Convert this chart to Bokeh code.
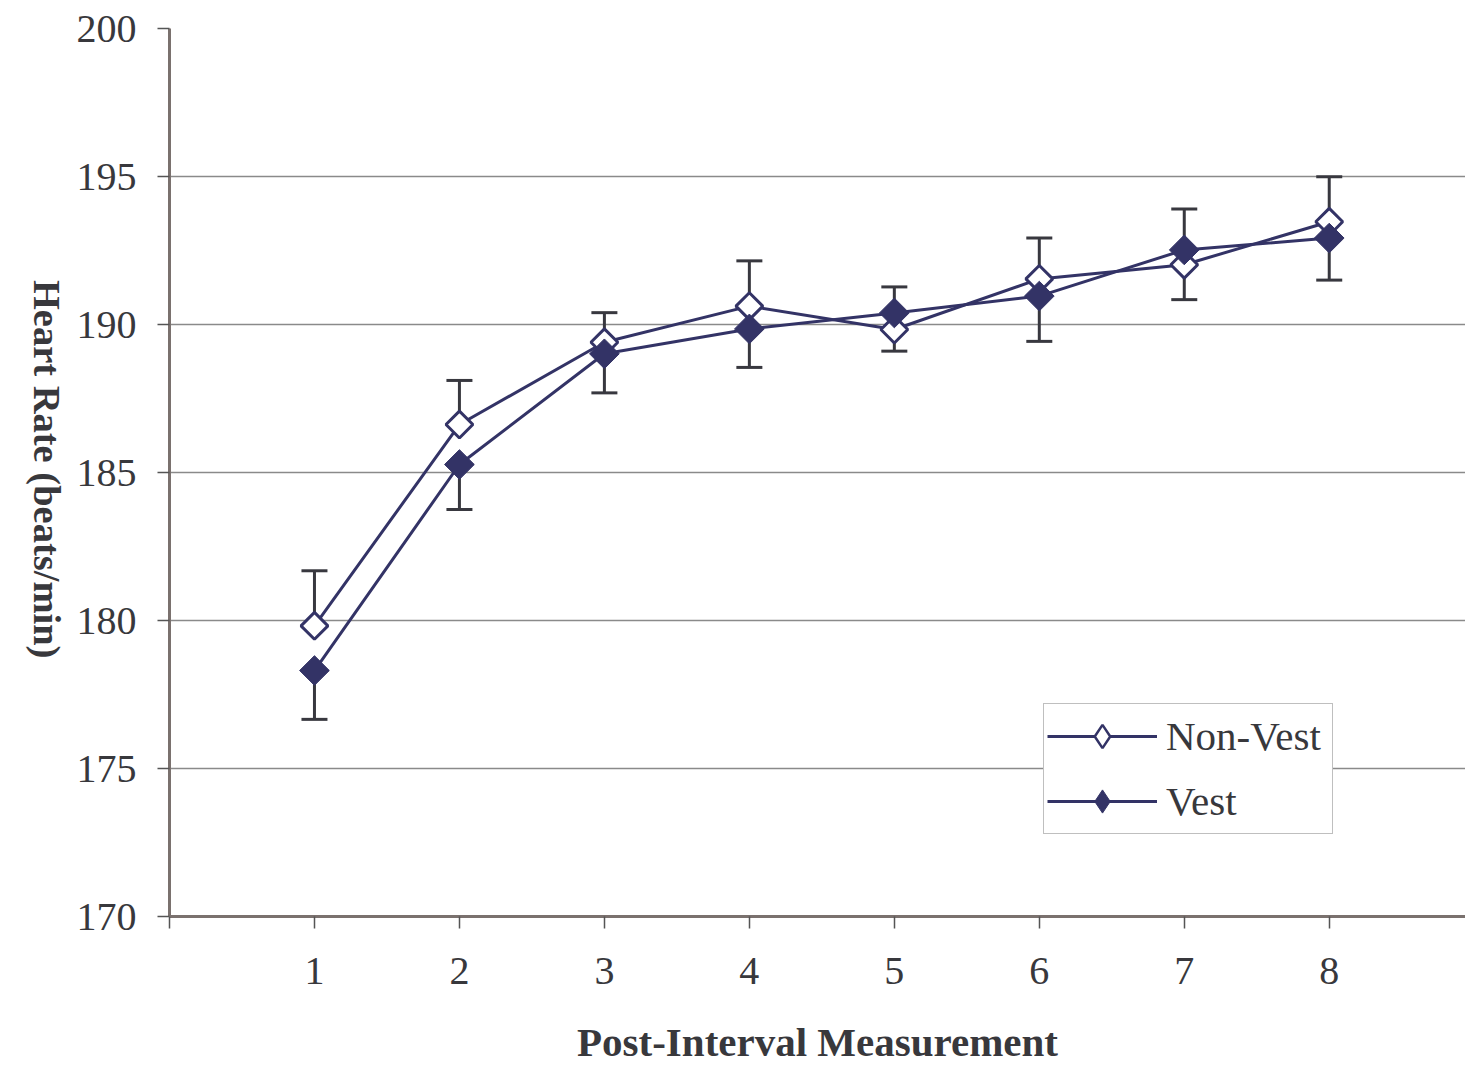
import math
from bokeh.plotting import figure
from bokeh.models import ColumnDataSource, FixedTicker, Range1d, LinearAxis
from bokeh.embed import file_html
from bokeh.resources import INLINE

measurements = [1, 2, 3, 4, 5, 6, 7, 8]
non_vest = [179.82, 186.62, 189.40, 190.62, 189.83, 191.54, 192.02, 193.47]
non_vest_err = [1.86, 1.49, 1.00, 1.53, 1.44, 1.38, 1.88, 1.52]
vest = [178.31, 185.27, 189.01, 189.85, 190.39, 190.96, 192.52, 192.92]
vest_err = [1.65, 1.52, 1.32, 1.30, 1.29, 1.53, 1.68, 1.42]
y_ticks = [170, 175, 180, 185, 190, 195, 200]
x_ticks = [0, 1, 2, 3, 4, 5, 6, 7, 8]
y_title = "Heart Rate (beats/min)"
y_title_end = 178.72   # where the (top-to-bottom) y title ends

NAVY = "#333366"
ERR = "#38383f"
TXT = "#38383c"
FONT = "Liberation Serif"

src_nv = ColumnDataSource(dict(
    x=measurements, y=non_vest,
    top=[v + e for v, e in zip(non_vest, non_vest_err)]))
src_v = ColumnDataSource(dict(
    x=measurements, y=vest,
    bot=[v - e for v, e in zip(vest, vest_err)]))

p = figure(width=1465, height=1067, output_backend="svg", toolbar_location=None,
           x_range=Range1d(0, 8.94), y_range=Range1d(170, 200),
           min_border_left=169, min_border_top=28, min_border_bottom=151,
           min_border_right=0, background_fill_color="white",
           border_fill_color="white")
p.outline_line_color = None

# error bars
p.segment(x0="x", y0="y", x1="x", y1="top", source=src_nv, line_color=ERR, line_width=3)
p.scatter(x="x", y="top", source=src_nv, marker="dash", size=26, line_color=ERR, line_width=3)
p.segment(x0="x", y0="y", x1="x", y1="bot", source=src_v, line_color=ERR, line_width=3)
p.scatter(x="x", y="bot", source=src_v, marker="dash", size=26, line_color=ERR, line_width=3)

# series lines
p.line(x="x", y="y", source=src_nv, line_color=NAVY, line_width=3, legend_label="Non-Vest")
p.line(x="x", y="y", source=src_v, line_color=NAVY, line_width=3, legend_label="Vest")
# diamond glyphs used for the legend key (hidden beneath the plotted markers)
p.scatter(x="x", y="y", source=src_nv, marker="diamond", size=8,
          fill_color="white", line_color=NAVY, line_width=2.5, legend_label="Non-Vest")
p.scatter(x="x", y="y", source=src_v, marker="diamond", size=8,
          fill_color=NAVY, line_color=NAVY, line_width=1, legend_label="Vest")
# plotted markers (square diamonds)
p.scatter(x="x", y="y", source=src_nv, marker="square", angle=math.pi / 4, size=19,
          fill_color="white", line_color=NAVY, line_width=3)
p.scatter(x="x", y="y", source=src_v, marker="square", angle=math.pi / 4, size=21,
          fill_color=NAVY, line_color=NAVY, line_width=1)

# axes
p.xaxis.ticker = FixedTicker(ticks=x_ticks)
p.xaxis.major_label_overrides = {0: ""}
p.yaxis.ticker = FixedTicker(ticks=y_ticks)
for ax in (p.xaxis[0], p.yaxis[0]):
    ax.axis_line_color = "#7a716e"
    ax.axis_line_width = 3
    ax.major_tick_line_color = "#555555"
    ax.major_tick_line_width = 1.5
    ax.minor_tick_line_color = None
    ax.major_tick_in = 0
    ax.major_tick_out = 12
    ax.major_label_text_font = FONT
    ax.major_label_text_font_size = "40px"
    ax.major_label_text_color = TXT
p.xaxis.major_label_standoff = 29
p.yaxis.major_label_standoff = 21
p.xaxis.axis_label = "Post-Interval Measurement"
p.xaxis.axis_label_text_font = FONT
p.xaxis.axis_label_text_font_style = "bold"
p.xaxis.axis_label_text_font_size = "41px"
p.xaxis.axis_label_text_color = TXT
p.xaxis.axis_label_standoff = 32

p.xgrid.grid_line_color = None
p.ygrid.grid_line_color = "#8a8a8a"
p.ygrid.grid_line_width = 1.5
p.ygrid.ticker = FixedTicker(ticks=y_ticks)

# y title, reading top-to-bottom, drawn as the single label of an outer axis
title_axis = LinearAxis(ticker=FixedTicker(ticks=[y_title_end]),
                        major_label_overrides={y_title_end: y_title},
                        major_label_orientation=-math.pi / 2,
                        major_label_text_font=FONT,
                        major_label_text_font_style="bold",
                        major_label_text_font_size="38.5px",
                        major_label_text_color=TXT,
                        major_label_standoff=27,
                        major_tick_out=0, major_tick_in=0,
                        minor_tick_line_color=None,
                        major_tick_line_color=None,
                        axis_line_color=None)
p.add_layout(title_axis, "left")

# legend
lg = p.legend[0]
lg.location = (874, 82)
lg.margin = 0
lg.padding = 3
lg.spacing = 7
lg.glyph_width = 110
lg.glyph_height = 58
lg.label_height = 58
lg.label_width = 163
lg.label_standoff = 9
lg.label_text_font = FONT
lg.label_text_font_size = "41px"
lg.label_text_color = TXT
lg.border_line_color = "#808080"
lg.border_line_width = 1.5
lg.background_fill_color = "white"
lg.background_fill_alpha = 1

open("out.html", "w").write(file_html(p, INLINE))
